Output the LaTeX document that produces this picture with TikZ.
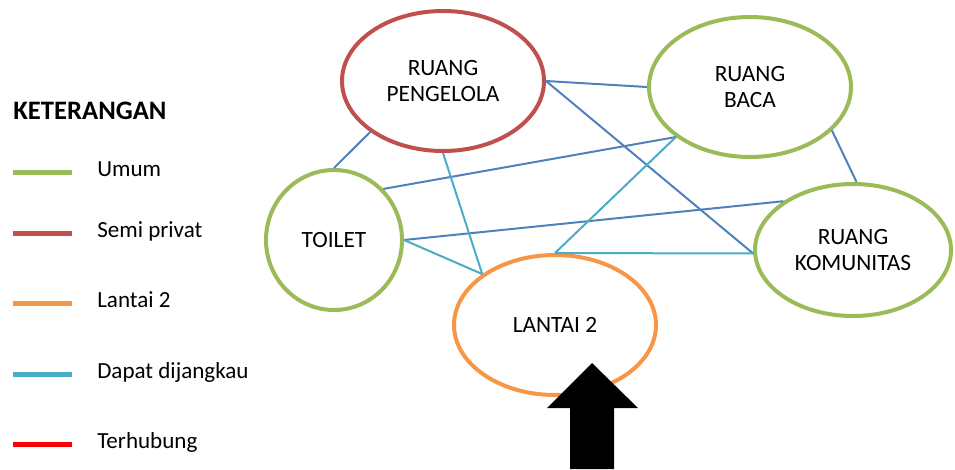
\documentclass[tikz,border=0pt]{standalone}
\usepackage{fontspec}
\setmainfont{Carlito}
\usepackage{xcolor}
\usetikzlibrary{shapes.geometric, positioning}

\definecolor{umum}{HTML}{9BBB59}
\definecolor{semiprivat}{HTML}{C0504D}
\definecolor{lantai}{HTML}{F79646}
\definecolor{jangkau}{HTML}{4BACC6}
\definecolor{hubung}{HTML}{4F81BD}

\begin{document}
\begin{tikzpicture}[
    x=0.75pt, y=-0.75pt,
    room/.style={ellipse, draw, line width=3pt, inner sep=0pt, text centered, align=center, minimum width=151.5pt, minimum height=105pt, font=\fontsize{17.5}{20}\selectfont},
    link/.style={line width=1.5pt, draw=hubung},
    reach/.style={line width=1.5pt, draw=jangkau},
    keyline/.style={line width=3.75pt},
    keytext/.style={font=\fontsize{17.3}{20}\selectfont, text height=1.6ex, text depth=0.3ex, inner sep=0pt}
]
\useasboundingbox (0,0) rectangle (955,469);

% Nodes
\node (pengelola) [room, draw=semiprivat] at (443,81) {RUANG\\PENGELOLA};
\node (baca) [room, draw=umum] at (750,87) {RUANG\\BACA};
\node (toilet) [room, draw=umum, minimum width=102pt] at (334,240) {TOILET};
\node (komunitas) [room, draw=umum, minimum width=147pt, minimum height=99pt] at (853,250) {RUANG\\KOMUNITAS};
\node (lantai) [room, draw=lantai] at (555,325) {LANTAI 2};

% Connections
\draw [link] (pengelola.215) -- (toilet.north);
\draw [link] (pengelola.east) -- (baca.west);
\draw [link] (pengelola.east) -- (komunitas.182);
\draw [link] (toilet.46) -- (baca.214);
\draw [link] (toilet.east) -- (komunitas.145);
\draw [link] (baca.332) -- (komunitas.87);
\draw [reach] (pengelola.south) -- (lantai.145);
\draw [reach] (toilet.east) -- (lantai.145);
\draw [reach] (lantai.north) -- (baca.214);
\draw [reach] (lantai.north) -- (komunitas.182);

% Entrance
\fill [black] (592,363) -- (638,408) -- (614,408) -- (614,469) -- (570,469) -- (570,408) -- (547,408) -- cycle;

% Legend
\node (keterangan) [anchor=base west, inner sep=0pt, font=\fontsize{20}{24}\selectfont\bfseries] at (13,119) {KETERANGAN};
\foreach \y/\col/\txt [count=\i] in {172/umum/Umum, 233/semiprivat/Semi privat, 303/lantai/Lantai 2, 374/jangkau/Dapat dijangkau, 444/red/Terhubung}{
    \draw [keyline, draw=\col] (13,\y) -- (72,\y) coordinate (key\i);
    \node (keytxt\i) [keytext, right=25 of key\i] {\txt};
}

\end{tikzpicture}
\end{document}
